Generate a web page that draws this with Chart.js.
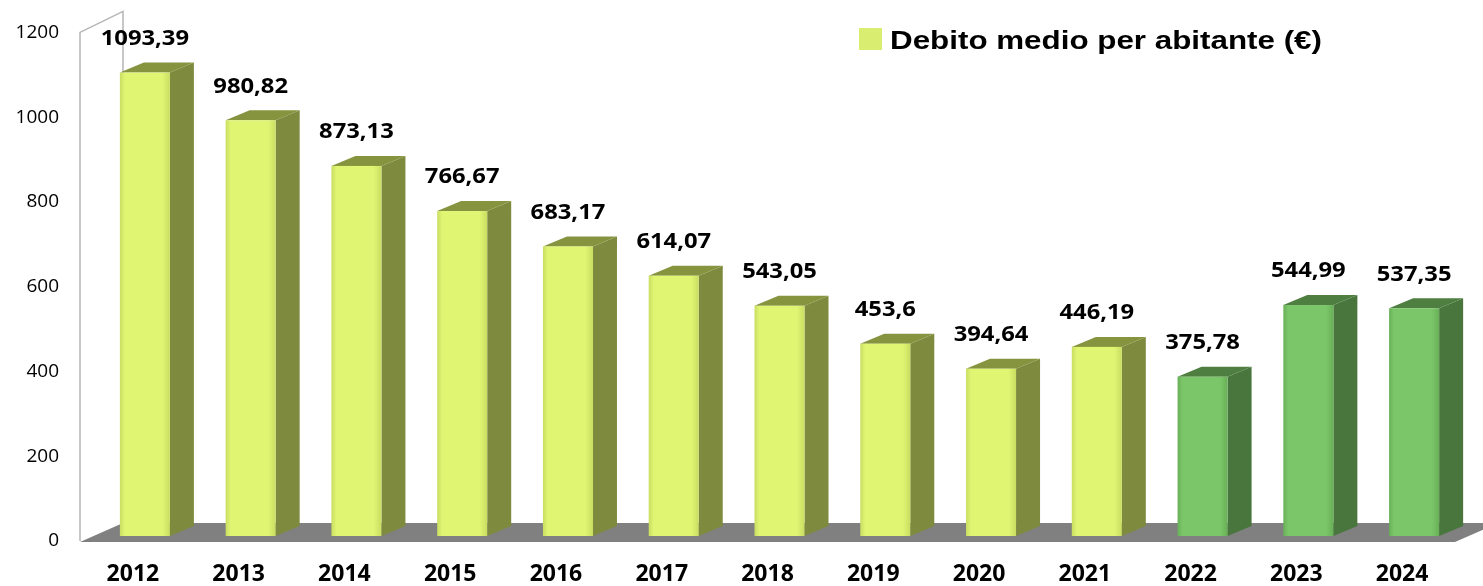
<!DOCTYPE html>
<html>
<head>
<meta charset="utf-8">
<script src="https://cdn.jsdelivr.net/npm/chart.js@4.4.1/dist/chart.umd.min.js"></script>
<style>
  html, body { margin: 0; padding: 0; background: #fff; }
  #chart { display: block; }
</style>
</head>
<body>
<canvas id="chart" width="1483" height="586"></canvas>
<script>
// Data
const years = ['2012', '2013', '2014', '2015', '2016', '2017', '2018', '2019', '2020', '2021', '2022', '2023', '2024'];
const debitoMedio = [1093.39, 980.82, 873.13, 766.67, 683.17, 614.07, 543.05, 453.6, 394.64, 446.19, 375.78, 544.99, 537.35];
const valueLabels = ['1093,39', '980,82', '873,13', '766,67', '683,17', '614,07', '543,05', '453,6', '394,64', '446,19', '375,78', '544,99', '537,35'];
const yTicks = [0, 200, 400, 600, 800, 1000, 1200];
const legendLabel = 'Debito medio per abitante (€)';

// last three years drawn in green, the rest in yellow-green
const isGreen = years.map(y => Number(y) >= 2022);

const COLORS = {
  yellow: { front: '#e0f572', edge: '#c9dd62', side: '#7e8b3e', top: '#86943f' },
  green: { front: '#7cc66a', edge: '#68b057', side: '#49763c', top: '#4e7e40' }
};

// 3D offsets
const WALL_DX = 43, WALL_DY = 21;        // depth of the wall / floor
const BAR_SHIFT_X = 12, BAR_SHIFT_Y = 5; // bar front face sits a bit behind the front plane
const BAR_DX = 24, BAR_DY = 10;          // depth of each bar

// text is a little wider than the fonts we have, so stretch it
function stretchedText(ctx, text, x, y, sx) {
  ctx.save();
  ctx.translate(x, y);
  ctx.scale(sx, 1);
  ctx.fillText(text, 0, 0);
  ctx.restore();
}

const threeD = {
  id: 'threeD',
  beforeDatasetsDraw(chart) {
    const { ctx, chartArea: a } = chart;
    ctx.save();
    // left wall
    ctx.strokeStyle = '#b5b5b5';
    ctx.lineWidth = 1.5;
    ctx.beginPath();
    ctx.moveTo(a.left, a.bottom);
    ctx.lineTo(a.left, a.top);
    ctx.lineTo(a.left + WALL_DX, a.top - WALL_DY);
    ctx.lineTo(a.left + WALL_DX, a.bottom - WALL_DY);
    ctx.stroke();
    // floor
    ctx.fillStyle = '#808080';
    ctx.beginPath();
    ctx.moveTo(a.left, a.bottom + 1);
    ctx.lineTo(a.right, a.bottom + 1);
    ctx.lineTo(a.right + WALL_DX, a.bottom + 1 - WALL_DY + 2);
    ctx.lineTo(a.left + WALL_DX, a.bottom + 1 - WALL_DY + 2);
    ctx.closePath();
    ctx.fill();
    ctx.restore();
  },
  afterDatasetsDraw(chart) {
    const { ctx } = chart;
    const meta = chart.getDatasetMeta(0);
    ctx.save();
    meta.data.forEach((el, i) => {
      const c = isGreen[i] ? COLORS.green : COLORS.yellow;
      const w = el.width;
      const cx = el.x + BAR_SHIFT_X;
      const top = el.y - BAR_SHIFT_Y;
      const bot = el.base - BAR_SHIFT_Y;
      const left = cx - w / 2;
      const right = cx + w / 2;

      // side face
      ctx.fillStyle = c.side;
      ctx.beginPath();
      ctx.moveTo(right, top);
      ctx.lineTo(right + BAR_DX, top - BAR_DY);
      ctx.lineTo(right + BAR_DX, bot - BAR_DY);
      ctx.lineTo(right, bot);
      ctx.closePath();
      ctx.fill();

      // top face
      ctx.fillStyle = c.top;
      ctx.beginPath();
      ctx.moveTo(left, top);
      ctx.lineTo(left + BAR_DX, top - BAR_DY);
      ctx.lineTo(right + BAR_DX, top - BAR_DY);
      ctx.lineTo(right, top);
      ctx.closePath();
      ctx.fill();

      // front face
      const g = ctx.createLinearGradient(left, 0, right, 0);
      g.addColorStop(0, c.edge);
      g.addColorStop(0.1, c.front);
      g.addColorStop(0.85, c.front);
      g.addColorStop(1, c.edge);
      ctx.fillStyle = g;
      ctx.fillRect(left, top, w, bot - top);

      // value label
      ctx.fillStyle = '#000';
      ctx.font = 'bold 22px "Open Sans"';
      ctx.textAlign = 'center';
      ctx.textBaseline = 'middle';
      stretchedText(ctx, valueLabels[i], cx, top - 34, 1.08);
    });
    ctx.restore();
  },
  afterDraw(chart) {
    const { ctx } = chart;
    ctx.save();
    ctx.fillStyle = '#d9ed70';
    ctx.fillRect(859, 28, 23, 22);
    ctx.fillStyle = '#000';
    ctx.font = 'bold 26px "Liberation Sans"';
    ctx.textAlign = 'left';
    ctx.textBaseline = 'alphabetic';
    const tw = ctx.measureText(legendLabel).width;
    stretchedText(ctx, legendLabel, 890, 49, 432 / tw);
    ctx.restore();
  }
};

new Chart(document.getElementById('chart'), {
  type: 'bar',
  data: {
    labels: years,
    datasets: [{
      label: legendLabel,
      data: debitoMedio,
      backgroundColor: 'rgba(0,0,0,0)',
      borderWidth: 0,
      categoryPercentage: 1,
      barPercentage: 0.473
    }]
  },
  options: {
    responsive: false,
    devicePixelRatio: 1,
    animation: false,
    layout: { padding: { left: 0, right: 28, top: 29, bottom: 0 } },
    plugins: {
      legend: { display: false },
      tooltip: { enabled: false }
    },
    scales: {
      x: {
        grid: { display: false, drawTicks: false },
        border: { display: false },
        ticks: {
          color: '#000',
          font: { family: 'Open Sans', size: 23, weight: 'bold' },
          padding: 20,
          maxRotation: 0
        },
        afterFit: (scale) => { scale.height = 45; }
      },
      y: {
        min: 0,
        max: 1200,
        afterBuildTicks: (scale) => { scale.ticks = yTicks.map(v => ({ value: v })); },
        grid: { display: false, drawTicks: false },
        border: { display: false },
        ticks: {
          color: '#000',
          font: { family: 'Open Sans', size: 19 },
          padding: 21,
          callback: (v) => String(v)
        },
        afterFit: (scale) => { scale.width = 80; }
      }
    }
  },
  plugins: [threeD]
});
</script>
</body>
</html>
